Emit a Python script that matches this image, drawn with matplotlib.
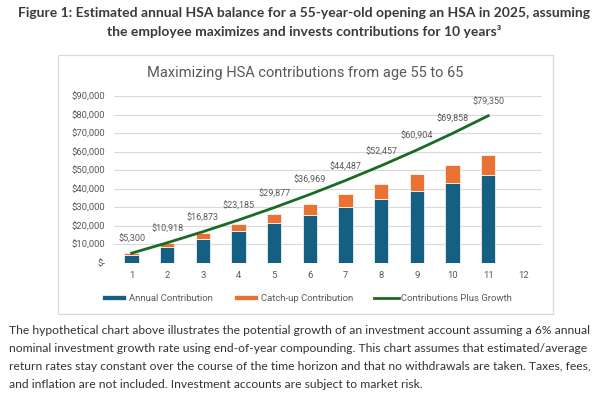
import numpy as np
import matplotlib
matplotlib.use("Agg")
import matplotlib.pyplot as plt
from matplotlib.patches import Rectangle
from matplotlib.ticker import FuncFormatter

# cumulative contributions and balance by year
years = [1, 2, 3, 4, 5, 6, 7, 8, 9, 10, 11]
annual = [4300, 8600, 12900, 17200, 21500, 25800, 30100, 34400, 38700, 43000, 47300]
catch_up = [1000, 2000, 3000, 4000, 5000, 6000, 7000, 8000, 9000, 10000, 11000]
balance = [5300, 10918, 16873, 23185, 29877, 36969, 44487, 52457, 60904, 69858, 79350]
x_ticks = list(range(1, 13))

heading = ["Figure 1: Estimated annual HSA balance for a 55-year-old opening an HSA in 2025, assuming",
           "the employee maximizes and invests contributions for 10 years\u00b3"]
chart_title = "Maximizing HSA contributions from age 55 to 65"
note = ["The hypothetical chart above illustrates the potential growth of an investment account assuming a 6% annual",
        "nominal investment growth rate using end-of-year compounding. This chart assumes that estimated/average",
        "return rates stay constant over the course of the time horizon and that no withdrawals are taken. Taxes, fees,",
        "and inflation are not included. Investment accounts are subject to market risk."]

BLUE = "#156082"
ORANGE = "#E97132"
GREEN = "#196B24"
GREY_TXT = "#595959"

plt.rcParams["font.family"] = ["Lato", "DejaVu Sans"]

W, H = 608, 399
fig = plt.figure(figsize=(W / 100, H / 100), dpi=100)


def fx(px):
    return px / W


def fy(py):
    return 1 - py / H


# heading
fig.text(0.5, fy(12.7), heading[0], ha="center", va="center", fontsize=10, fontweight="bold", color="#3a3a3a")
fig.text(0.5, fy(31.7), heading[1], ha="center", va="center", fontsize=10, fontweight="bold", color="#3a3a3a")

# chart frame
fig.patches.append(Rectangle((fx(58.3), fy(314)), fx(552.7 - 58.3), (314 - 55) / H,
                             transform=fig.transFigure, fill=False, edgecolor="#D9D9D9", lw=0.9))
fig.text(fx(305.5), fy(73), chart_title, ha="center", va="center", fontsize=10.5,
         color=GREY_TXT, family=["Roboto", "DejaVu Sans"])

ax = fig.add_axes([fx(113.8), fy(263), fx(541.7 - 113.8), (263 - 96) / H])
b1 = ax.bar(years, annual, width=0.4, color=BLUE, edgecolor="white", lw=0.5, label="Annual Contribution", zorder=2)
b2 = ax.bar(years, catch_up, width=0.4, bottom=annual, color=ORANGE, edgecolor="white", lw=0.5,
            label="Catch-up Contribution", zorder=2)
ln, = ax.plot(years, balance, color=GREEN, lw=2, label="Contributions Plus Growth", zorder=3)
for xv, yv in zip(years, balance):
    ax.annotate(f"${yv:,}", (xv, yv), xytext=(0, 10), textcoords="offset points",
                ha="center", va="center", fontsize=6.5, color=GREY_TXT, family=["Roboto", "DejaVu Sans"])

ax.set_xlim(0.5, 12.5)
ax.set_ylim(0, 90000)
ax.set_xticks(x_ticks)
ax.set_yticks(np.arange(0, 90001, 10000))
ax.yaxis.set_major_formatter(FuncFormatter(lambda v, p: "$-" if v == 0 else f"${v:,.0f}"))
ax.grid(axis="y", color="#D9D9D9", lw=0.8, zorder=0)
for s in ax.spines.values():
    s.set_visible(False)
ax.tick_params(length=0, labelsize=6.8, colors=GREY_TXT, pad=6)
for lab in ax.get_xticklabels() + ax.get_yticklabels():
    lab.set_family(["Roboto", "DejaVu Sans"])

ax.legend(handles=[b1, b2, ln], loc="center", bbox_to_anchor=(fx(307), fy(298.5)), bbox_transform=fig.transFigure,
          ncol=3, frameon=False, handlelength=2.6, handleheight=0.5, columnspacing=2.2,
          handletextpad=0.3, labelcolor=GREY_TXT, prop={"family": ["Roboto", "DejaVu Sans"], "size": 6.8})

# footnote paragraph
for i, line in enumerate(note):
    fig.text(fx(9), fy(330 + 18 * i), line, ha="left", va="center", fontsize=8.75, color="#333333")

fig.savefig("out.png", dpi=100, facecolor="white")
